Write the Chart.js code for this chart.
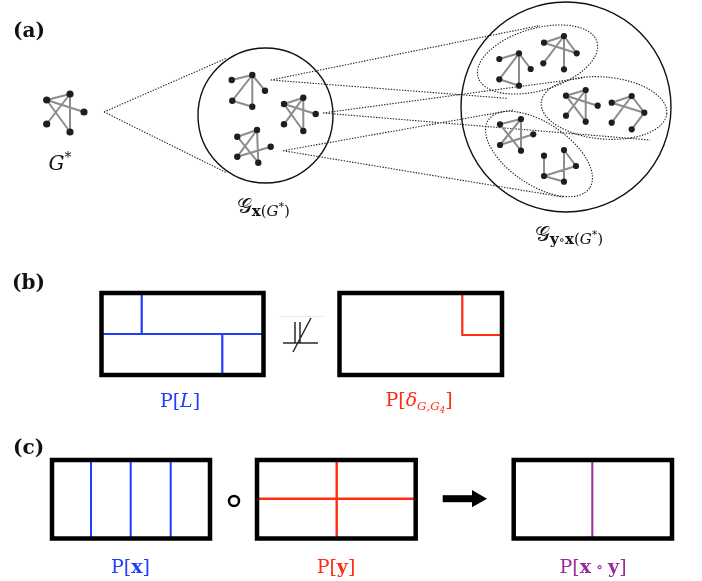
<!DOCTYPE html>
<html>
<head>
<meta charset="utf-8">
<script src="https://cdn.jsdelivr.net/npm/chart.js@4"></script>
<style>
  html, body { margin: 0; padding: 0; background: #fff; }
  canvas { display: block; }
</style>
</head>
<body>
<canvas id="fig" width="702" height="581"></canvas>
<script>
// everything is in page pixels (x right, y down)

// little graphs: 5 nodes each, order = top-left, top, right, bottom-left, bottom
const gStarNodes = [[46.7,100],[70,94],[84,112],[46.7,124],[70,132]];
const xTopNodes = [[231.7,80],[252.3,75],[265,90.7],[232.3,100.7],[252.3,106.7]];
const xRightNodes = [[284,104],[303.3,97.7],[315.7,114],[284,124.3],[303.3,131]];
const xBottomNodes = [[237.3,136.7],[257,130],[270.7,146.7],[237.3,156.7],[258.3,162.7]];
const y1aNodes = [[499.3,59],[519,53.3],[530.7,69],[499.3,79.3],[519,85.7]];
const y1bNodes = [[544,42.7],[564,36],[576.7,53.3],[543.3,63.3],[564,69.3]];
const y2aNodes = [[566,95.7],[585.7,90],[597.7,105.7],[566,115.7],[585.7,121.7]];
const y2bNodes = [[611.7,102.7],[631.7,96],[644.3,112.7],[611.7,122.7],[631.7,129.3]];
const y3aNodes = [[500,124.3],[521,119],[533.3,134.3],[500,145],[521,150.7]];
const y3bNodes = [[544,155.7],[564,150],[576,166],[544,176],[564,181.7]];

// edge lists (node index pairs)
const starEdges = [[0,1],[0,2],[0,4],[1,4],[1,3]];
const fanEdges = [[0,1],[1,2],[1,3],[1,4],[3,4]];
const crossEdges = [[0,1],[1,4],[0,4],[1,3],[3,2]];
const hookEdges = [[0,1],[0,2],[1,2],[1,4],[3,1]];
const zigEdges = [[0,1],[0,2],[1,2],[2,4],[3,1]];
const cupEdges = [[0,3],[1,2],[1,4],[3,2],[3,4]];

// big circles [cx, cy, radius]
const circles = [[265.5,115.5,67.5],[566,107,105]];
// dotted ellipses [cx, cy, a, b, rotation deg]
const ellipses = [[537.5,59.5,62,31,-16.5],[604,108,63,31,5],[539,154,61,31,34]];
// dotted fan lines [x1, y1, x2, y2]
const fanLines = [
  [104,112,227,58],[104,112,227,173],
  [270.7,80,540,25.5],[270.7,80,506.7,98.3],
  [323,113,583,78],[323,113,650,140],
  [283,150.7,513,110],[283,150.7,563,197]
];

// partition boxes [x1, y1, x2, y2] (border centre line)
const boxesB = [[101.5,293,263.5,375],[339.5,293,502,375]];
const boxesC = [[52,460,210,538.5],[257,460,415.7,538.5],[513.7,460,672,538.5]];
// cut lines inside boxes, as polylines
const cutsL = [[[141.7,293],[141.7,334]],[[101.5,334],[263.5,334]],[[222.3,334],[222.3,375]]];
const cutsDelta = [[[462.3,293],[462.3,335],[502,335]]];
const cutsX = [[[91,460],[91,538.5]],[[130.7,460],[130.7,538.5]],[[170.7,460],[170.7,538.5]]];
const cutsY = [[[257,498.7],[415.7,498.7]],[[336.7,460],[336.7,538.5]]];
const cutsXY = [[[592.3,460],[592.3,538.5]]];
// "not independent" glyph strokes
const notIndep = [[[283,343],[318,343]],[[295,322],[295,343]],[[300,322],[300,343]],[[293,352],[311,318]]];

const blue = '#1f3cff', red = '#ff2b12', purple = '#9b2b9b';

const labels = [
  {x: 13, y: 37, align: 'left', size: 20, color: '#111', runs: [['(a)','b',1,0]]},
  {x: 12, y: 289, align: 'left', size: 20, color: '#111', runs: [['(b)','b',1,0]]},
  {x: 13, y: 454, align: 'left', size: 20, color: '#111', runs: [['(c)','b',1,0]]},
  {x: 60, y: 170, align: 'center', size: 20, color: '#111', runs: [['G','i',1,0],['*','r',0.7,-8]]},
  {x: 236.7, y: 213, align: 'left', size: 21, color: '#111',
    runs: [['\u{1D4A2}','r',1,0],['x','b',0.72,3],['(','r',0.72,3],['G','i',0.72,3],['*','r',0.5,-3],[')','r',0.72,3]]},
  {x: 535, y: 241, align: 'left', size: 21, color: '#111',
    runs: [['\u{1D4A2}','r',1,0],['y','b',0.72,3],['\u2218','r',0.6,3],['x','b',0.72,3],['(','r',0.72,3],['G','i',0.72,3],['*','r',0.5,-3],[')','r',0.72,3]]},
  {x: 180, y: 407, align: 'center', size: 19, color: blue, runs: [['P[','r',1,0],['L','i',1,0],[']','r',1,0]]},
  {x: 419, y: 406, align: 'center', size: 19, color: red,
    runs: [['P[','r',1,0],['\u03B4','i',1,0],['G','i',0.62,4],[',','i',0.62,4],['G','i',0.62,4],['4','i',0.45,7],[']','r',1,0]]},
  {x: 130.5, y: 573, align: 'center', size: 19, color: blue, runs: [['P[','r',1,0],['x','b',1,0],[']','r',1,0]]},
  {x: 336, y: 573, align: 'center', size: 19, color: red, runs: [['P[','r',1,0],['y','b',1,0],[']','r',1,0]]},
  {x: 593, y: 573, align: 'center', size: 19, color: purple,
    runs: [['P[','r',1,0],['x','b',1,0],[' \u2218 ','r',0.8,-1],['y','b',1,0],[']','r',1,0]]}
];

const graphs = [
  [gStarNodes, starEdges, 3.6], [xTopNodes, fanEdges, 3.2], [xRightNodes, starEdges, 3.2],
  [xBottomNodes, crossEdges, 3.2], [y1aNodes, fanEdges, 3.1], [y1bNodes, hookEdges, 3.1],
  [y2aNodes, starEdges, 3.1], [y2bNodes, zigEdges, 3.1], [y3aNodes, crossEdges, 3.1],
  [y3bNodes, cupEdges, 3.1]
];

var pt = function (p) { return {x: p[0], y: p[1]}; };

// join several polylines into one dataset, broken by null points
var joinPaths = function (paths) {
  var out = [];
  paths.forEach(function (path, i) {
    if (i > 0) out.push({x: path[0][0], y: null});
    path.forEach(function (p) { out.push(pt(p)); });
  });
  return out;
};

var boxPath = function (b) {
  return [[b[0],b[1]],[b[2],b[1]],[b[2],b[3]],[b[0],b[3]],[b[0],b[1]]];
};

var lineSet = function (paths, color, width, extra) {
  return Object.assign({
    type: 'line', data: joinPaths(paths), borderColor: color, borderWidth: width,
    pointRadius: 0, fill: false, tension: 0, spanGaps: false, clip: false, order: 2
  }, extra || {});
};

var datasets = [];

graphs.forEach(function (g) {
  var nodes = g[0];
  datasets.push({
    type: 'scatter', data: nodes.map(pt), pointRadius: g[2],
    backgroundColor: '#1e1e1e', borderWidth: 0, clip: false, order: 0
  });
  datasets.push(lineSet(g[1].map(function (e) { return [nodes[e[0]], nodes[e[1]]]; }),
    '#8d8d8d', 2, {order: 1, borderCapStyle: 'round'}));
});

datasets.push(lineSet(fanLines.map(function (l) { return [[l[0], l[1]], [l[2], l[3]]]; }),
  '#222', 1.1, {borderDash: [1.4, 1.4], order: 3}));

datasets.push(lineSet(cutsL, blue, 2.2));
datasets.push(lineSet(cutsDelta, red, 2.2, {borderJoinStyle: 'miter'}));
datasets.push(lineSet(cutsX, blue, 2));
datasets.push(lineSet(cutsY, red, 2.4));
datasets.push(lineSet(cutsXY, purple, 2));
datasets.push(lineSet(boxesB.concat(boxesC).map(boxPath), '#000', 4.5,
  {borderJoinStyle: 'miter', borderCapStyle: 'square', order: 1}));
datasets.push(lineSet(notIndep, '#2a2a2a', 1.5));
datasets.push(lineSet([[[279,316.5],[323,316.5]]], '#e6e6e6', 1));

// composition ring and arrow
datasets.push({
  type: 'scatter', data: [{x: 234, y: 501}], pointRadius: 5, pointStyle: 'circle',
  backgroundColor: '#fff', borderColor: '#000', borderWidth: 2.5, clip: false, order: 0
});
datasets.push(lineSet([[[442.7,498.7],[474,498.7]]], '#000', 7, {borderCapStyle: 'butt'}));
datasets.push({
  type: 'scatter', data: [{x: 477, y: 498.7}], pointRadius: 10, pointStyle: 'triangle',
  rotation: 90, backgroundColor: '#000', borderWidth: 0, clip: false, order: 0
});

var serif = '"DejaVu Serif", "Liberation Serif", serif';
var runFont = function (style, size) {
  return (style.indexOf('i') >= 0 ? 'italic ' : '') + (style.indexOf('b') >= 0 ? 'bold ' : '') +
    size.toFixed(1) + 'px ' + serif;
};

// big circles and dotted ellipses, placed through the chart's scales
var decor = {
  id: 'decor',
  beforeDatasetsDraw: function (chart) {
    var ctx = chart.ctx, xs = chart.scales.x, ys = chart.scales.y;
    var ring = function (cx, cy, a, b, rot) {
      var px = xs.getPixelForValue(cx), py = ys.getPixelForValue(cy);
      var rx = Math.abs(xs.getPixelForValue(cx + a) - px), ry = Math.abs(ys.getPixelForValue(cy + b) - py);
      ctx.beginPath();
      ctx.ellipse(px, py, rx, ry, rot * Math.PI / 180, 0, Math.PI * 2);
      ctx.stroke();
    };
    ctx.save();
    ctx.strokeStyle = '#111';
    ctx.lineWidth = 1.4;
    circles.forEach(function (c) { ring(c[0], c[1], c[2], c[2], 0); });
    ctx.strokeStyle = '#222';
    ctx.lineWidth = 1.1;
    ctx.setLineDash([1.4, 1.4]);
    ellipses.forEach(function (e) { ring(e[0], e[1], e[2], e[3], e[4]); });
    ctx.restore();
  },
  afterDraw: function (chart) {
    var ctx = chart.ctx, xs = chart.scales.x, ys = chart.scales.y;
    ctx.save();
    ctx.textBaseline = 'alphabetic';
    ctx.textAlign = 'left';
    labels.forEach(function (lab) {
      var total = 0;
      var parts = lab.runs.map(function (r) {
        ctx.font = runFont(r[1], lab.size * r[2]);
        var w = ctx.measureText(r[0]).width;
        total += w;
        return {t: r[0], font: ctx.font, w: w, dy: r[3]};
      });
      var x = xs.getPixelForValue(lab.x), y = ys.getPixelForValue(lab.y);
      if (lab.align === 'center') x -= total / 2;
      ctx.fillStyle = lab.color;
      parts.forEach(function (p) {
        ctx.font = p.font;
        ctx.fillText(p.t, x, y + p.dy);
        x += p.w;
      });
    });
    ctx.restore();
  }
};

var chart = new Chart(document.getElementById('fig'), {
  type: 'scatter',
  data: {datasets: datasets},
  options: {
    responsive: false,
    animation: false,
    events: [],
    layout: {padding: 0},
    scales: {
      x: {type: 'linear', min: 0, max: 702, display: false},
      y: {type: 'linear', min: 0, max: 581, reverse: true, display: false}
    },
    plugins: {legend: {display: false}, tooltip: {enabled: false}}
  },
  plugins: [decor]
});

// chart.js keeps a small inset for point overflow; match the scale range to it
// so one data unit is one page pixel
var ca = chart.chartArea;
chart.options.scales.x.min = ca.left;
chart.options.scales.x.max = ca.right;
chart.options.scales.y.min = ca.top;
chart.options.scales.y.max = ca.bottom;
chart.update();
</script>
</body>
</html>
